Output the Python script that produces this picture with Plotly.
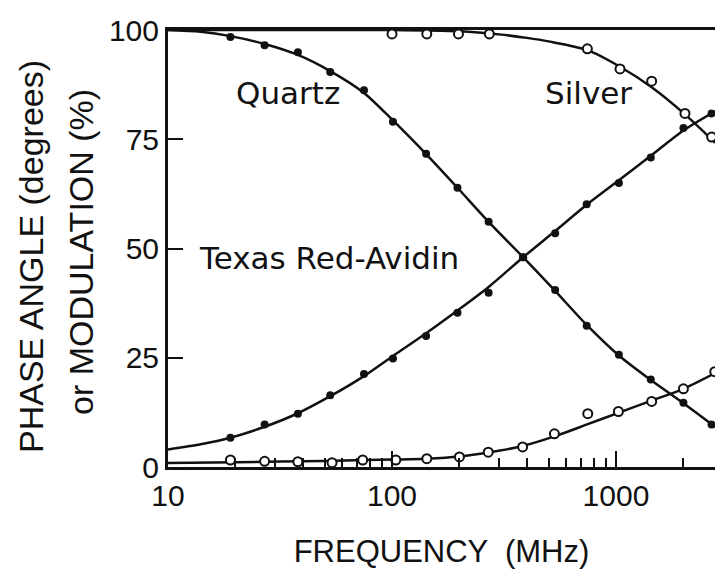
import math
import plotly.graph_objects as go

# ---- data ----
quartz_freq = [19, 27, 38, 53, 75, 101, 142, 196, 270, 385, 535, 740, 1030, 1430, 2000, 2670]
quartz_mod = [98.4, 96.5, 94.9, 90.4, 86.2, 79.0, 71.7, 63.9, 56.1, 48.0, 40.5, 32.3, 25.7, 20.0, 14.7, 9.7]
quartz_phase = [6.7, 9.7, 12.2, 16.4, 21.3, 24.8, 30.0, 35.3, 39.9, 48.0, 53.5, 60.1, 65.0, 70.8, 77.6, 80.9]

silver_mod_freq = [100, 143, 198, 272, 745, 1042, 1443, 2032, 2673]
silver_mod = [99.1, 99.1, 99.1, 99.1, 95.7, 91.1, 88.3, 80.9, 75.5]
silver_phase_freq = [19, 27, 38, 54, 74, 104, 143, 200, 269, 383, 531, 748, 1025, 1443, 2000, 2760]
silver_phase = [1.6, 1.3, 1.2, 1.0, 1.6, 1.6, 1.9, 2.3, 3.4, 4.6, 7.6, 12.2, 12.7, 15.0, 17.9, 21.8]

# fitted curves
qm_curve_f = [10, 14, 19, 27, 38, 53, 75, 101, 142, 196, 270, 385, 535, 740, 1030, 1430, 2000, 2770]
qm_curve_v = [100, 99.6, 98.6, 96.8, 94.3, 90.6, 85.6, 79.3, 71.6, 63.9, 56.1, 48.0, 40.3, 32.5, 25.5, 19.9, 14.6, 9.2]
qp_curve_f = [10, 14, 19, 27, 38, 53, 75, 101, 142, 196, 270, 385, 535, 740, 1030, 1430, 2000, 2770]
qp_curve_v = [4.0, 5.2, 6.7, 9.2, 12.3, 16.2, 20.8, 25.4, 30.6, 35.8, 41.2, 48.0, 54.0, 60.0, 65.6, 71.2, 77.0, 81.4]
sm_curve_f = [10, 100, 200, 300, 400, 500, 745, 1042, 1443, 2032, 2770]
sm_curve_v = [100, 100, 99.7, 99.0, 98.2, 97.4, 95.4, 91.6, 86.9, 80.7, 74.2]
sp_curve_f = [10, 20, 50, 100, 143, 200, 269, 383, 531, 748, 1025, 1443, 2000, 2770]
sp_curve_v = [0.9, 1.1, 1.4, 1.7, 1.9, 2.4, 3.3, 4.8, 7.0, 9.8, 12.4, 15.2, 17.9, 21.5]

x_tick_vals = [10, 100, 1000]
x_tick_text = ["10", "100", "1000"]
x_minor_vals = [20, 30, 40, 50, 60, 70, 80, 90, 200, 300, 400, 500, 600, 700, 800, 900, 2000]
y_tick_vals = [0, 25, 50, 75, 100]
y_tick_text = ["0", "25", "50", "75", "100"]

INK = "#111111"
FONT = "Liberation Sans, Arial, sans-serif"
LFONT = "DejaVu Sans, sans-serif"

fig = go.Figure()

for cf, cv in [(qm_curve_f, qm_curve_v), (qp_curve_f, qp_curve_v),
               (sm_curve_f, sm_curve_v), (sp_curve_f, sp_curve_v)]:
    fig.add_trace(go.Scatter(x=cf, y=cv, mode="lines",
                             line=dict(color=INK, width=2.5, shape="spline", smoothing=0.8),
                             showlegend=False, hoverinfo="skip"))

fig.add_trace(go.Scatter(x=quartz_freq, y=quartz_mod, mode="markers",
                         marker=dict(symbol="circle", size=8, color=INK), showlegend=False))
fig.add_trace(go.Scatter(x=quartz_freq, y=quartz_phase, mode="markers",
                         marker=dict(symbol="circle", size=8, color=INK), showlegend=False))
fig.add_trace(go.Scatter(x=silver_mod_freq, y=silver_mod, mode="markers",
                         marker=dict(symbol="circle", size=9, color="white",
                                     line=dict(color=INK, width=2)), showlegend=False))
fig.add_trace(go.Scatter(x=silver_phase_freq, y=silver_phase, mode="markers",
                         marker=dict(symbol="circle", size=9, color="white",
                                     line=dict(color=INK, width=2)), showlegend=False))

labels = [("Quartz", 34.3, 85.5, "center"), ("Silver", 757, 85.5, "center"),
          ("Texas Red-Avidin", 13.5, 47.8, "left")]
for txt, lx, ly, anc in labels:
    fig.add_annotation(x=math.log10(lx), y=ly, xref="x", yref="y", text=txt, showarrow=False,
                       xanchor=anc, yanchor="middle",
                       font=dict(family=LFONT, size=31, color=INK))

# convert pixel positions to paper coordinates
L, R, T, B = 168, 0, 30, 111
W, H = 715, 578
pw, ph = W - L - R, H - T - B

def to_paper(px, py):
    return (px - L) / pw, (H - B - py) / ph

# y axis title (two rotated lines)
for txt, px, py in [("PHASE ANGLE (degrees)", 31, 257), ("or MODULATION (%)", 81, 252)]:
    ax_, ay_ = to_paper(px, py)
    fig.add_annotation(x=ax_, y=ay_, xref="paper", yref="paper", text=txt,
                       showarrow=False, textangle=-90, xanchor="center", yanchor="middle",
                       font=dict(family=FONT, size=34, color=INK))

fig.update_layout(
    width=W, height=H,
    margin=dict(l=L, r=R, t=T, b=B),
    paper_bgcolor="white", plot_bgcolor="white",
    font=dict(family=FONT, color=INK),
    xaxis=dict(type="log", range=[1, 3.442], showgrid=False, zeroline=False,
               showline=True, linecolor=INK, linewidth=3, mirror=True,
               ticks="inside", ticklen=16, tickwidth=2, tickcolor=INK,
               tickmode="array", tickvals=x_tick_vals, ticktext=x_tick_text,
               tickfont=dict(family=FONT, size=30, color=INK),
               minor=dict(tickmode="array", tickvals=x_minor_vals, ticks="inside",
                          ticklen=9, tickwidth=2, tickcolor=INK, showgrid=False),
               title=dict(text="FREQUENCY  (MHz)", font=dict(family=FONT, size=31, color=INK),
                          standoff=30)),
    yaxis=dict(range=[0, 100], showgrid=False, zeroline=False,
               showline=True, linecolor=INK, linewidth=3,
               ticks="inside", ticklen=15, tickwidth=2, tickcolor=INK,
               tickmode="array", tickvals=y_tick_vals, ticktext=y_tick_text,
               tickfont=dict(family=FONT, size=30, color=INK)),
)

fig.write_html("out.html")
